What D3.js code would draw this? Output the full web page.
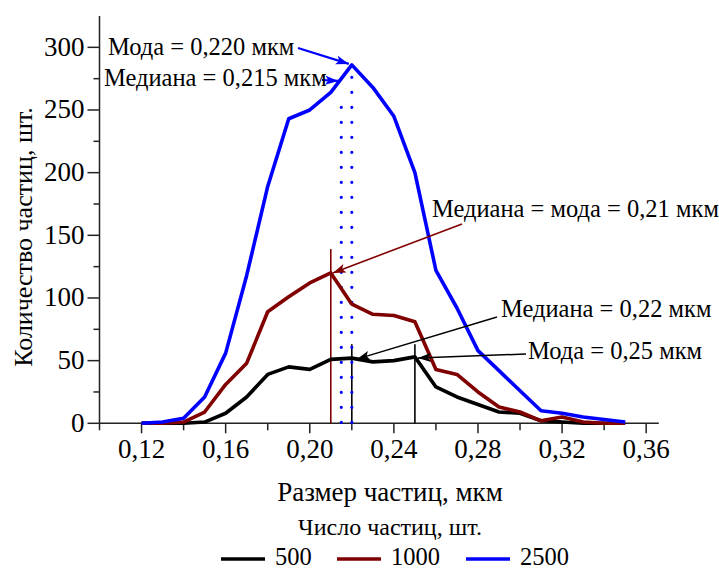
<!DOCTYPE html>
<html><head><meta charset="utf-8">
<script src="https://cdn.jsdelivr.net/npm/d3@7"></script>
<style>body{margin:0;background:#fff}svg{display:block}text{font-family:"Liberation Serif","Times New Roman",serif;fill:#000}</style>
</head><body>
<svg id="c" width="719" height="570"></svg>
<script>
const sizes = [0.12,0.13,0.14,0.15,0.16,0.17,0.18,0.19,0.20,0.21,0.22,0.23,0.24,0.25,0.26,0.27,0.28,0.29,0.30,0.31,0.32,0.33,0.34,0.35];
const s500  = [0,0,0,1,8,21,39,45,43,51,52,49,50,53,29,21,15,9,8,2,1,0,0,0];
const s1000 = [0,0,1,9,31,48,89,101,112,120,95,87,86,81,43,39,25,13,9,2,5,1,0,0];
const s2500 = [0,1,4,21,56,118,189,243,250,264,286,268,245,200,122,92,58,42,26,10,8,5,3,1];
const seriesNames = ["500","1000","2500"];
const seriesColors = ["#000000","#800000","#0000ff"];
const xTicksMajor = [0.12,0.16,0.20,0.24,0.28,0.32,0.36];
const xTicksMinor = [0.10,0.14,0.18,0.22,0.26,0.30,0.34];
const yTicksMajor = [0,50,100,150,200,250,300];
const yTicksMinor = [25,75,125,175,225,275];
const fmtX = d => d.toFixed(2).replace(".", ",");

const svg = d3.select("#c");
const x = d3.scaleLinear().domain([0.10,0.366]).range([99.5,658.8]);
const y = d3.scaleLinear().domain([0,325]).range([423.3,16]);

// axes
const ax = svg.append("g");
ax.append("line").attr("x1",x(0.10)).attr("x2",x(0.366)).attr("y1",y(0)).attr("y2",y(0)).attr("stroke","#222").attr("stroke-width",1.5);
ax.append("line").attr("x1",x(0.10)).attr("x2",x(0.10)).attr("y1",y(0)).attr("y2",y(325)).attr("stroke","#222").attr("stroke-width",1.5);
ax.selectAll(".xM").data(xTicksMajor).join("line").attr("x1",d=>x(d)).attr("x2",d=>x(d)).attr("y1",y(0)).attr("y2",y(0)+10).attr("stroke","#222").attr("stroke-width",1.5);
ax.selectAll(".xm").data(xTicksMinor).join("line").attr("x1",d=>x(d)).attr("x2",d=>x(d)).attr("y1",y(0)).attr("y2",y(0)+7).attr("stroke","#222").attr("stroke-width",1.5);
ax.selectAll(".yM").data(yTicksMajor).join("line").attr("x1",x(0.10)-12).attr("x2",x(0.10)).attr("y1",d=>y(d)).attr("y2",d=>y(d)).attr("stroke","#222").attr("stroke-width",1.5);
ax.selectAll(".ym").data(yTicksMinor).join("line").attr("x1",x(0.10)-6).attr("x2",x(0.10)).attr("y1",d=>y(d)).attr("y2",d=>y(d)).attr("stroke","#222").attr("stroke-width",1.5);
ax.selectAll(".xl").data(xTicksMajor).join("text").attr("x",d=>x(d)).attr("y",y(0)+35).attr("text-anchor","middle").attr("font-size",27).text(fmtX);
ax.selectAll(".yl").data(yTicksMajor).join("text").attr("x",x(0.10)-15).attr("y",d=>y(d)+8.5).attr("text-anchor","end").attr("font-size",27).text(d=>d);
svg.append("text").attr("x",390).attr("y",501).attr("text-anchor","middle").attr("font-size",27).text("Размер частиц, мкм");
svg.append("text").attr("transform","translate(32,237) rotate(-90)").attr("text-anchor","middle").attr("font-size",26).text("Количество частиц, шт.");

// reference vertical lines
const vl = svg.append("g");
vl.append("line").attr("x1",x(0.21)).attr("x2",x(0.21)).attr("y1",y(0)).attr("y2",y(139)).attr("stroke","#800000").attr("stroke-width",1.6);
vl.append("line").attr("x1",x(0.22)).attr("x2",x(0.22)).attr("y1",y(0)).attr("y2",y(63)).attr("stroke","#000").attr("stroke-width",1.6);
vl.append("line").attr("x1",x(0.25)).attr("x2",x(0.25)).attr("y1",y(0)).attr("y2",y(63)).attr("stroke","#000").attr("stroke-width",1.6);
vl.append("line").attr("x1",x(0.215)).attr("x2",x(0.215)).attr("y1",y(0)-1).attr("y2",y(262)).attr("stroke","#0000ff").attr("stroke-width",3.2).attr("stroke-linecap","round").attr("stroke-dasharray","0 15");
vl.append("line").attr("x1",x(0.22)).attr("x2",x(0.22)).attr("y1",y(0)-1).attr("y2",y(287)).attr("stroke","#0000ff").attr("stroke-width",3.2).attr("stroke-linecap","round").attr("stroke-dasharray","0 15");

// series
const line = d3.line().x((d,i)=>x(sizes[i])).y(d=>y(d));
[s500,s1000,s2500].forEach((s,k)=>{
  svg.append("path").datum(s).attr("d",line).attr("fill","none").attr("stroke",seriesColors[k]).attr("stroke-width",3.6).attr("stroke-linejoin","round");
});

// arrow markers
const defs = svg.append("defs");
[["aB","#0000ff"],["aR","#800000"],["aK","#000"]].forEach(([id,c])=>{
  defs.append("marker").attr("id",id).attr("markerUnits","userSpaceOnUse").attr("markerWidth",14).attr("markerHeight",10)
    .attr("refX",13).attr("refY",4.5).attr("orient","auto")
    .append("path").attr("d","M0,0 L13,4.5 L0,9 L3,4.5 z").attr("fill",c);
});
const ann = svg.append("g");
function arrow(x1,y1,x2,y2,c,m,w){ann.append("line").attr("x1",x1).attr("y1",y1).attr("x2",x2).attr("y2",y2).attr("stroke",c).attr("stroke-width",w).attr("marker-end",`url(#${m})`);}
arrow(298,48,x(0.22)-3,y(286)-1,"#0000ff","aB",2.2);
arrow(322,80,x(0.215)-3,y(274)+1,"#0000ff","aB",2.2);
arrow(462,224,x(0.21)+2,y(120),"#800000","aR",1.6);
arrow(497,317,x(0.22)+5,y(52)+1,"#000","aK",1.5);
arrow(526,354,x(0.25)+3,y(53)+1,"#000","aK",1.5);
ann.append("text").attr("x",108).attr("y",55).attr("font-size",24.5).text("Мода = 0,220 мкм");
ann.append("text").attr("x",104).attr("y",86).attr("font-size",24.5).text("Медиана = 0,215 мкм");
ann.append("text").attr("x",432).attr("y",217).attr("font-size",24.5).text("Медиана = мода = 0,21 мкм");
ann.append("text").attr("x",501).attr("y",317).attr("font-size",24.5).text("Медиана = 0,22 мкм");
ann.append("text").attr("x",528).attr("y",359).attr("font-size",24.5).text("Мода = 0,25 мкм");

// legend
svg.append("text").attr("x",390).attr("y",535).attr("text-anchor","middle").attr("font-size",24).text("Число частиц, шт.");
const lg = svg.append("g");
const lx = [221,337,466];
seriesNames.forEach((n,k)=>{
  lg.append("line").attr("x1",lx[k]).attr("x2",lx[k]+44).attr("y1",559).attr("y2",559).attr("stroke",seriesColors[k]).attr("stroke-width",3.6);
  lg.append("text").attr("x",lx[k]+54).attr("y",565).attr("font-size",24.5).text(n);
});
</script>
</body></html>
